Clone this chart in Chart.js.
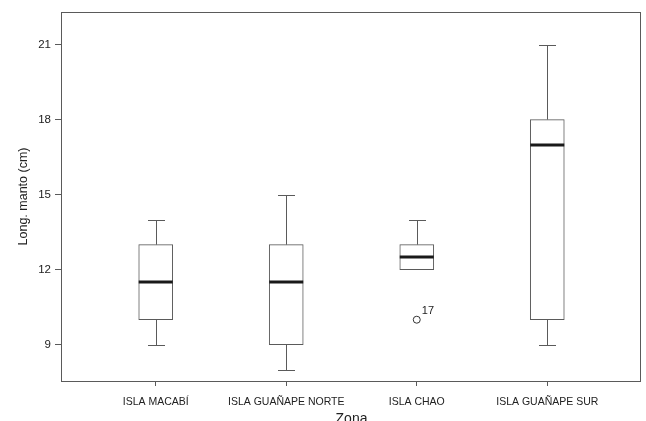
<!DOCTYPE html>
<html>
<head>
<meta charset="utf-8">
<script src="https://cdn.jsdelivr.net/npm/chart.js@4/dist/chart.umd.min.js"></script>
<style>
  html, body { margin: 0; padding: 0; background: #fff; }
  #wrap { width: 646px; height: 421px; }
</style>
</head>
<body>
<div id="wrap"><canvas id="c" width="646" height="421"></canvas></div>
<script>
// ---- data ----
const categories = ["ISLA MACABÍ", "ISLA GUAÑAPE NORTE", "ISLA CHAO", "ISLA GUAÑAPE SUR"];
const whiskerLow = [9, 8, 12, 9];
const q1 = [10, 9, 12, 10];
const median = [11.5, 11.5, 12.5, 17];
const q3 = [13, 13, 13, 18];
const whiskerHigh = [14, 15, 14, 21];
const outlierCategory = [2];
const outlierValue = [10];
const outlierLabel = ["17"];
const yTicks = [9, 12, 15, 18, 21];
const yTitle = "Long. manto (cm)";
const xTitle = "Zona";

const FONT = "'Liberation Sans', Arial, sans-serif";
const LINE = '#5a5a5a';

const boxData = categories.map((c, i) => ({ x: i, y: [q1[i], q3[i]] }));
const outlierData = outlierCategory.map((c, i) => ({ x: c, y: outlierValue[i] }));

const boxPlugin = {
  id: 'boxParts',
  beforeDatasetsDraw(chart) {
    const { ctx, scales: { x, y } } = chart;
    ctx.save();
    ctx.strokeStyle = LINE;
    ctx.lineWidth = 1;
    categories.forEach((c, i) => {
      const cx = Math.round(x.getPixelForValue(i)) + 0.5;
      const half = 8.5;
      const yHi = Math.round(y.getPixelForValue(whiskerHigh[i])) + 0.5;
      const yQ3 = y.getPixelForValue(q3[i]);
      const yLo = Math.round(y.getPixelForValue(whiskerLow[i])) + 0.5;
      const yQ1 = y.getPixelForValue(q1[i]);
      ctx.beginPath();
      if (whiskerHigh[i] > q3[i]) {
        ctx.moveTo(cx, yHi); ctx.lineTo(cx, yQ3);
        ctx.moveTo(cx - half, yHi); ctx.lineTo(cx + half, yHi);
      }
      if (whiskerLow[i] < q1[i]) {
        ctx.moveTo(cx, yLo); ctx.lineTo(cx, yQ1);
        ctx.moveTo(cx - half, yLo); ctx.lineTo(cx + half, yLo);
      }
      ctx.stroke();
    });
    ctx.restore();
  },
  afterDatasetsDraw(chart) {
    const { ctx, scales: { x, y } } = chart;
    ctx.save();
    ctx.strokeStyle = '#1a1a1a';
    ctx.lineWidth = 3;
    categories.forEach((c, i) => {
      const cx = x.getPixelForValue(i);
      const ym = Math.round(y.getPixelForValue(median[i]));
      ctx.beginPath();
      ctx.moveTo(cx - 17, ym); ctx.lineTo(cx + 17, ym);
      ctx.stroke();
    });
    // outlier labels
    ctx.fillStyle = '#222';
    ctx.font = '11px ' + FONT;
    ctx.textAlign = 'left';
    ctx.textBaseline = 'middle';
    outlierCategory.forEach((c, i) => {
      const px = x.getPixelForValue(c);
      const py = y.getPixelForValue(outlierValue[i]);
      ctx.fillText(outlierLabel[i], px + 5, py - 9);
    });
    // frame around plot area
    const a = chart.chartArea;
    ctx.strokeStyle = LINE;
    ctx.lineWidth = 1;
    ctx.strokeRect(Math.round(a.left) - 0.5, Math.round(a.top) + 0.5, Math.round(a.right - a.left), Math.round(a.bottom - a.top));
    ctx.restore();
  }
};

new Chart(document.getElementById('c'), {
  type: 'bar',
  data: {
    datasets: [
      {
        type: 'bar',
        data: boxData,
        backgroundColor: '#ffffff',
        borderColor: LINE,
        borderWidth: 1,
        borderSkipped: false,
        barThickness: 34
      },
      {
        type: 'scatter',
        data: outlierData,
        pointStyle: 'circle',
        pointRadius: 3.5,
        pointBorderWidth: 1,
        pointBackgroundColor: 'rgba(0,0,0,0)',
        pointBorderColor: '#333'
      }
    ]
  },
  options: {
    responsive: false,
    animation: false,
    devicePixelRatio: 1,
    layout: { padding: { top: 12, right: 2, left: 0, bottom: 0 } },
    plugins: { legend: { display: false }, tooltip: { enabled: false } },
    scales: {
      x: {
        type: 'linear',
        offset: false,
        min: -0.718,
        max: 3.718,
        afterBuildTicks(scale) { scale.ticks = categories.map((c, i) => ({ value: i })); },
        afterFit(scale) { scale.height = 40; },
        ticks: {
          autoSkip: false,
          maxRotation: 0,
          padding: 10,
          color: '#222',
          font: { family: FONT, size: 10.5 },
          callback: (v) => categories[v]
        },
        grid: { display: true, offset: false, drawOnChartArea: false, drawTicks: true, tickLength: 5, color: LINE },
        border: { display: false },
        title: {
          display: true,
          text: xTitle,
          color: '#222',
          font: { family: FONT, size: 14 },
          padding: { top: 0, bottom: -7 }
        }
      },
      y: {
        type: 'linear',
        min: 7.55,
        max: 22.3,
        afterBuildTicks(scale) { scale.ticks = yTicks.map(v => ({ value: v })); },
        afterFit(scale) { scale.width = 62; },
        ticks: {
          padding: 4,
          color: '#222',
          font: { family: FONT, size: 11.5 }
        },
        grid: { display: true, drawOnChartArea: false, drawTicks: true, tickLength: 7, color: LINE },
        border: { display: false },
        title: {
          display: true,
          text: yTitle,
          color: '#222',
          font: { family: FONT, size: 12.5 },
          padding: { top: 16, bottom: 0 }
        }
      }
    }
  },
  plugins: [boxPlugin]
});
</script>
</body>
</html>
